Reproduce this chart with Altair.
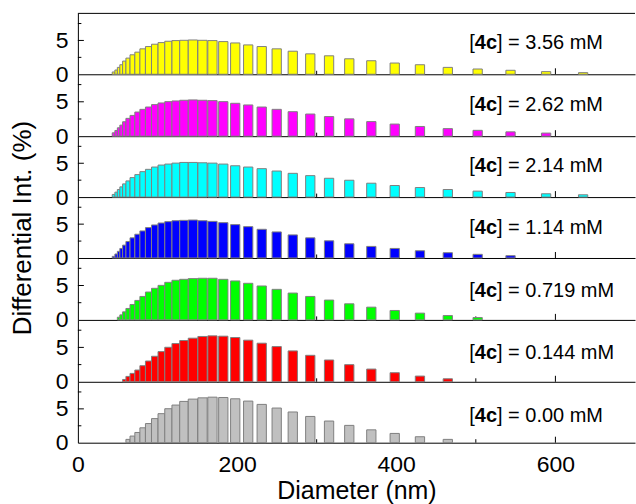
import altair as alt
import pandas as pd

# ---------------- data ----------------
diameters = [44.8, 48.1, 51.2, 54.5, 58.3, 62.9, 68.5, 74.8, 81.4, 88.7,
             96.6, 105.0, 113.7, 123.1, 133.3, 144.5, 156.6, 169.1, 182.7, 197.7,
             214.0, 231.0, 249.8, 270.0, 292.0, 315.6, 341.0, 368.7, 398.1, 429.8,
             464.8, 502.3, 543.6, 588.3, 634.8]

conc_labels = ["3.56", "2.62", "2.14", "1.14", "0.719", "0.144", "0.00"]
colors = ["#FFFF00", "#FF00FF", "#00FFFF", "#0000FF", "#00FF00", "#FF0000", "#C0C0C0"]
start_bins = [1, 1, 1, 1, 3, 5, 6]   # first bin (1-based) that carries a bar

int_356 = [0.34, 0.63, 1.02, 1.41, 1.95, 2.39, 2.88, 3.27, 3.76, 4.10,
           4.44, 4.68, 4.88, 4.98, 5.02, 5.07, 5.02, 4.98, 4.83, 4.63,
           4.34, 4.10, 3.76, 3.41, 3.02, 2.73, 2.29, 2.00, 1.66, 1.41,
           1.02, 0.78, 0.59, 0.39, 0.24]
int_262 = [0.49, 0.83, 1.22, 1.61, 2.10, 2.59, 3.02, 3.51, 3.90, 4.24,
           4.59, 4.83, 5.02, 5.12, 5.22, 5.27, 5.22, 5.17, 5.02, 4.78,
           4.54, 4.24, 3.90, 3.56, 3.22, 2.85, 2.52, 2.12, 1.76, 1.41,
           1.10, 0.85, 0.63, 0.45]
int_214 = [0.39, 0.73, 1.12, 1.51, 1.95, 2.39, 2.88, 3.32, 3.76, 4.10,
           4.44, 4.73, 4.88, 5.02, 5.12, 5.12, 5.07, 5.02, 4.88, 4.63,
           4.44, 4.20, 3.85, 3.51, 3.17, 2.78, 2.49, 2.05, 1.71, 1.41,
           1.12, 0.88, 0.68, 0.49, 0.34]
int_114 = [0.24, 0.59, 0.98, 1.41, 1.90, 2.44, 2.98, 3.51, 4.00, 4.49,
           4.88, 5.17, 5.37, 5.51, 5.56, 5.61, 5.51, 5.41, 5.22, 4.93,
           4.63, 4.24, 3.85, 3.41, 2.98, 2.54, 2.10, 1.71, 1.41, 1.07,
           0.78, 0.54, 0.34]
int_0719 = [0.39, 0.73, 1.17, 1.66, 2.24, 2.83, 3.41, 4.05, 4.59, 5.02,
            5.46, 5.76, 5.90, 6.00, 6.05, 6.05, 5.90, 5.66, 5.32, 4.93,
            4.44, 3.90, 3.41, 2.88, 2.34, 1.85, 1.37, 0.98, 0.63, 0.34]
int_0144 = [0.34, 0.78, 1.22, 1.71, 2.34, 3.02, 3.71, 4.39, 5.02, 5.56,
            6.00, 6.34, 6.59, 6.68, 6.63, 6.44, 6.05, 5.61, 5.12, 4.49,
            3.85, 3.17, 2.49, 1.85, 1.32, 0.83, 0.44]
int_000 = [0.49, 0.98, 1.51, 2.20, 2.83, 3.56, 4.29, 5.02, 5.56, 6.10,
           6.44, 6.63, 6.73, 6.68, 6.49, 6.15, 5.66, 5.12, 4.54, 3.88,
           3.20, 2.56, 1.90, 1.37, 0.88, 0.49]
series = [int_356, int_262, int_214, int_114, int_0719, int_0144, int_000]

x_major = [0, 200, 400, 600]
x_tick_major = [200, 400, 600]
x_tick_minor = [100, 300, 500]
y_labels = [0, 5]
y_tick_major = [5]
y_tick_minor = [2.5, 7.5]

# ---------------- style ----------------
FONT = "Liberation Sans"
W = 558
HEIGHTS = [61, 62, 61, 61, 62, 62, 61]
XMAX = 700
YMAX = 9
MAXBAR_PX = 9.3
LABEL_X = 392
LABEL_Y = [29.4, 30.6, 29.7, 30.7, 32.7, 33.0, 34.3]

xscale = alt.Scale(domain=[0, XMAX], nice=False, zero=False)
yscale = alt.Scale(domain=[0, YMAX], nice=False)

# bar half-widths: neighbour spacing, capped at a fixed pixel width
n = len(diameters)
cap = MAXBAR_PX * XMAX / W
half_w = []
for i in range(n):
    gaps = []
    if i > 0:
        gaps.append(diameters[i] - diameters[i - 1])
    if i < n - 1:
        gaps.append(diameters[i + 1] - diameters[i])
    half_w.append(min(sum(gaps) / len(gaps), cap) / 2)

panels = []
for k in range(7):
    H = HEIGHTS[k]
    vals = series[k]
    idx = list(range(start_bins[k] - 1, start_bins[k] - 1 + len(vals)))
    df = pd.DataFrame({
        "d": [diameters[i] for i in idx],
        "x1": [diameters[i] - half_w[i] for i in idx],
        "x2": [diameters[i] + half_w[i] for i in idx],
        "h": vals,
    })
    last = k == 6
    if last:
        xaxis = alt.Axis(values=x_major, labelFontSize=23, labelPadding=11,
                         labelFlush=False, ticks=False, tickSize=0, grid=False,
                         title="Diameter (nm)", titleFontSize=25,
                         titleFontWeight="normal", titlePadding=2)
    else:
        xaxis = alt.Axis(labels=False, ticks=False, tickSize=0, grid=False,
                         title="")
    if k == 3:
        yaxis = alt.Axis(values=y_labels, labelFontSize=23, labelPadding=10,
                         labelFlush=False, ticks=False, tickSize=0, grid=False,
                         title="Differential Int. (%)", titleFontSize=26,
                         titleFontWeight="normal", titlePadding=20)
    else:
        yaxis = alt.Axis(values=y_labels, labelFontSize=23, labelPadding=10,
                         labelFlush=False, ticks=False, tickSize=0, grid=False,
                         title="")

    xt_major = alt.Chart(pd.DataFrame({"v": x_tick_major})).mark_rule(
        color="black", strokeWidth=1).encode(
        x=alt.X("v:Q", scale=xscale, axis=xaxis),
        y=alt.value(H), y2=alt.value(H - 6))
    xt_minor = alt.Chart(pd.DataFrame({"v": x_tick_minor})).mark_rule(
        color="black", strokeWidth=1).encode(
        x=alt.X("v:Q", scale=xscale, axis=xaxis),
        y=alt.value(H), y2=alt.value(H - 3.5))
    yt_major = alt.Chart(pd.DataFrame({"v": y_tick_major})).mark_rule(
        color="black", strokeWidth=1).encode(
        y=alt.Y("v:Q", scale=yscale, axis=yaxis),
        x=alt.value(0), x2=alt.value(6))
    yt_minor = alt.Chart(pd.DataFrame({"v": y_tick_minor})).mark_rule(
        color="black", strokeWidth=1).encode(
        y=alt.Y("v:Q", scale=yscale, axis=yaxis),
        x=alt.value(0), x2=alt.value(3.5))

    bars = alt.Chart(df).mark_bar(color=colors[k], stroke="#808080",
                                  strokeWidth=1).encode(
        x=alt.X("x1:Q", scale=xscale, axis=xaxis),
        x2="x2:Q",
        y=alt.Y("h:Q", scale=yscale, axis=yaxis),
        y2=alt.datum(0),
    )

    lab = pd.DataFrame({"rest": ["] = " + conc_labels[k] + " mM"]})
    common = dict(align="left", baseline="middle", fontSize=20, font=FONT,
                  color="black")
    t1 = alt.Chart(lab).mark_text(text="[", **common).encode(
        x=alt.value(LABEL_X), y=alt.value(LABEL_Y[k]))
    t2 = alt.Chart(lab).mark_text(text="4c", fontWeight="bold", dx=5.6,
                                  **common).encode(
        x=alt.value(LABEL_X), y=alt.value(LABEL_Y[k]))
    t3 = alt.Chart(lab).mark_text(dx=27.8, **common).encode(
        x=alt.value(LABEL_X), y=alt.value(LABEL_Y[k]), text="rest:N")

    layers = [xt_major, xt_minor, yt_major, yt_minor, bars, t1, t2, t3]
    if k == 0:
        top = alt.Chart(lab).mark_rule(color="black", strokeWidth=1).encode(
            x=alt.value(0), x2=alt.value(W), y=alt.value(0))
        layers.append(top)
    panels.append(alt.layer(*layers).properties(width=W, height=H))

chart = alt.vconcat(*panels, spacing=0, bounds="flush").properties(
    padding={"left": 9, "top": 12, "right": 0, "bottom": 0}
).configure_axis(
    labelFont=FONT, titleFont=FONT, labelColor="black", titleColor="black",
    domainColor="black", domainWidth=1,
).configure_view(strokeWidth=0)

chart.save("out.html", embed_options={"renderer": "svg", "actions": False})
